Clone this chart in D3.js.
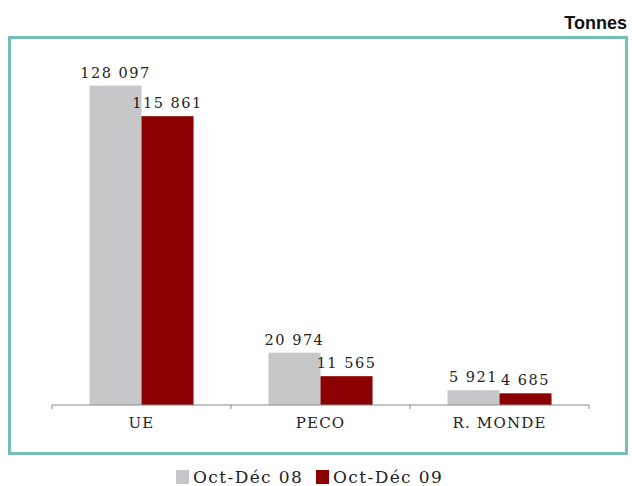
<!DOCTYPE html>
<html><head><meta charset="utf-8">
<script src="https://cdn.jsdelivr.net/npm/d3@7"></script>
<style>body{margin:0;background:#fff}svg{display:block}</style>
</head><body><svg id="c" width="632" height="486"></svg>
<script>
const categories = ["UE", "PECO", "R. MONDE"];
const seriesNames = ["Oct-Déc 08", "Oct-Déc 09"];
const values08 = [128097, 20974, 5921];
const values09 = [115861, 11565, 4685];
const labels08 = ["128 097", "20 974", "5 921"];
const labels09 = ["115 861", "11 565", "4 685"];
const colors = ["#c6c7c9", "#8b0000"];

const svg = d3.select("#c");
const serif = "'DejaVu Serif', serif";

svg.append("rect").attr("x", 9.5).attr("y", 37.5).attr("width", 617).attr("height", 416)
  .attr("fill", "none").attr("stroke", "#76bcb8").attr("stroke-width", 3);

svg.append("text").attr("x", 627).attr("y", 29).attr("text-anchor", "end")
  .attr("font-family", "'Liberation Sans', Arial, sans-serif").attr("font-weight", "bold")
  .attr("font-size", 18).attr("fill", "#111").text("Tonnes");

const x = d3.scaleBand().domain(categories).range([52, 589]).paddingInner(0).paddingOuter(0);
const x1 = d3.scaleBand().domain([0, 1]).range([0, x.bandwidth()]).paddingInner(0).paddingOuter(0.72);
const y = d3.scaleLinear().domain([0, 140000]).range([405, 56]);

const data = categories.map((c, i) => ({c, v: [values08[i], values09[i]], l: [labels08[i], labels09[i]]}));
const g = svg.append("g");
data.forEach(d => {
  [0, 1].forEach(s => {
    g.append("rect").attr("x", x(d.c) + x1(s)).attr("y", y(d.v[s]))
      .attr("width", x1.bandwidth()).attr("height", y(0) - y(d.v[s])).attr("fill", colors[s]);
    g.append("text").attr("x", x(d.c) + x1(s) + x1.bandwidth() / 2).attr("y", y(d.v[s]) - 8)
      .attr("text-anchor", "middle").attr("font-family", serif).attr("font-size", 14.5)
      .attr("letter-spacing", 1.5).attr("fill", "#222").text(d.l[s]);
  });
});

const axis = d3.axisBottom(x).tickSize(0).tickPadding(12);
const ax = svg.append("g").attr("transform", "translate(0,405)").call(axis);
ax.select(".domain").attr("stroke", "#888").attr("d", "M52,0H589");
ax.selectAll("text").attr("font-family", serif).attr("font-size", 15).attr("fill", "#222").attr("letter-spacing", 1.2);
[52, 231, 410, 589].forEach(t => ax.append("line").attr("x1", t).attr("x2", t).attr("y1", 0).attr("y2", 4).attr("stroke", "#888"));

const leg = svg.append("g");
const lx = [176, 316];
seriesNames.forEach((n, i) => {
  leg.append("rect").attr("x", lx[i]).attr("y", 470).attr("width", 13).attr("height", 14).attr("fill", colors[i]);
  leg.append("text").attr("x", lx[i] + 17).attr("y", 483).attr("font-family", serif).attr("font-size", 17)
    .attr("letter-spacing", 1.4).attr("fill", "#222").text(n);
});
</script></body></html>
